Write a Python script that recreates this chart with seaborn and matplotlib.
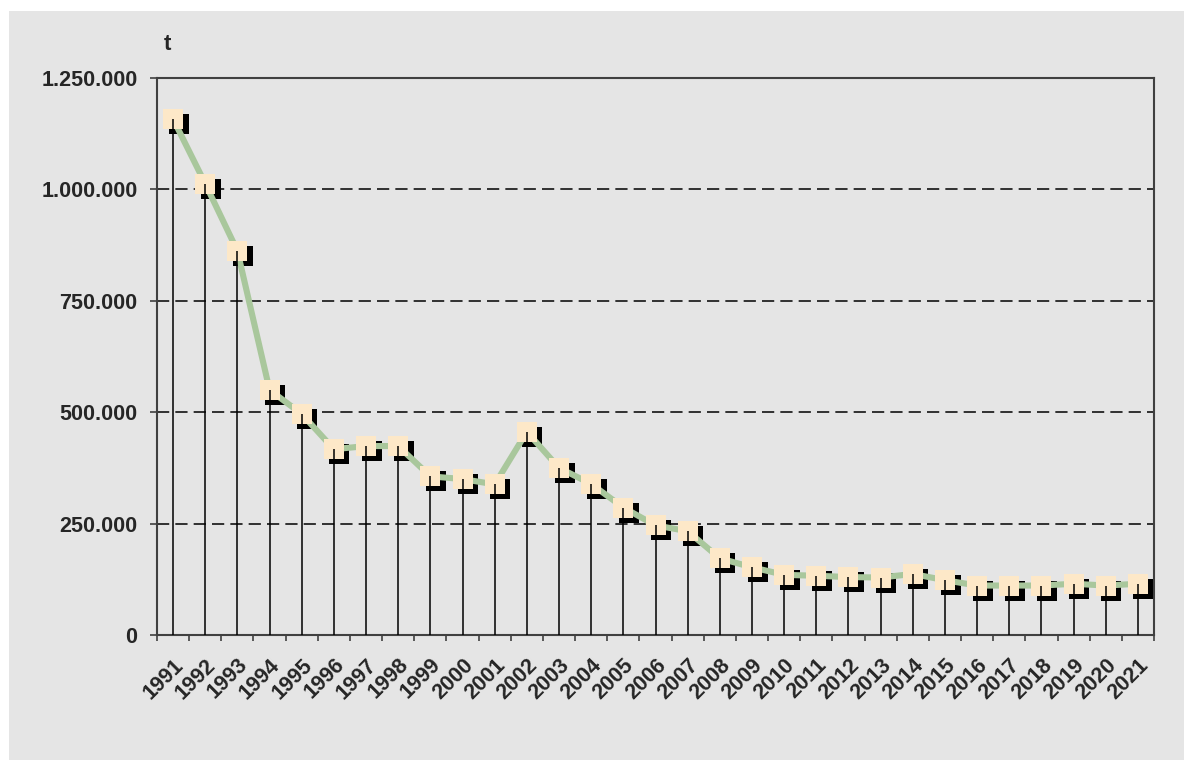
import matplotlib
matplotlib.use("Agg")
import matplotlib.pyplot as plt
from matplotlib.patches import Rectangle
from matplotlib.ticker import FixedLocator, FuncFormatter, NullFormatter
from matplotlib.transforms import offset_copy, ScaledTranslation
import numpy as np
import pandas as pd
import seaborn as sns

# Annual quantities in tonnes
years = list(range(1991, 2022))
tonnes = [1158000, 1013000, 862000, 550000, 496000, 417000, 424000, 424000,
          356000, 350000, 338000, 456000, 375000, 339000, 286000, 246000,
          233000, 172000, 152000, 135000, 133000, 130000, 129000, 137000,
          123000, 111000, 111000, 111000, 115000, 111000, 115000]
y_ticks = [0, 250000, 500000, 750000, 1000000, 1250000]
unit_label = "t"

df = pd.DataFrame({"year": years, "tonnes": tonnes})

sns.set_style("white")
plt.rcParams["font.family"] = ["Liberation Sans", "DejaVu Sans"]
plt.rcParams["font.weight"] = "bold"

panel = "#e5e5e5"
fig = plt.figure(figsize=(11.84, 7.60), dpi=100, facecolor="white")
fig.patches.append(Rectangle((9 / 1184, 0), 1, 1 - 11 / 760, transform=fig.transFigure,
                             facecolor=panel, edgecolor="none", zorder=-10))
ax = fig.add_axes([157 / 1184, 1 - 635 / 760, (1154 - 157) / 1184, (635 - 78) / 760])
ax.set_facecolor(panel)

# drop shadow behind each marker
shadow_tr = offset_copy(ax.transData, fig=fig, x=4.0, y=-3.6, units="points")
sns.scatterplot(data=df, x="year", y="tonnes", ax=ax, marker="s", s=190,
                color="black", linewidth=0, transform=shadow_tr, zorder=2, legend=False)
sns.lineplot(data=df, x="year", y="tonnes", ax=ax, color="#a9c79c", linewidth=4.4,
             zorder=3, legend=False)
sns.scatterplot(data=df, x="year", y="tonnes", ax=ax, marker="s", s=190,
                color="#fde8c8", linewidth=0, zorder=4, legend=False)
ax.vlines(df["year"], 0, df["tonnes"], color="black", linewidth=1.1, zorder=5)

ax.set_xlim(years[0] - 0.5, years[-1] + 0.5)
ax.set_ylim(y_ticks[0], y_ticks[-1])

# y axis
ax.yaxis.set_major_locator(FixedLocator(y_ticks))
ax.yaxis.set_major_formatter(FuncFormatter(lambda v, _: f"{int(v):,}".replace(",", ".")))
ax.tick_params(axis="y", which="major", direction="out", length=5, width=1.2,
               color="#404040", pad=9, labelsize=15.5, left=True)
for gy in y_ticks[1:-1]:
    ax.axhline(gy, color="black", linewidth=1.1, linestyle=(0, (8, 4)), zorder=1)

# x axis: tick marks between categories, labels at the centres
ax.xaxis.set_major_locator(FixedLocator(years))
ax.xaxis.set_minor_locator(FixedLocator([y - 0.5 for y in years] + [years[-1] + 0.5]))
ax.xaxis.set_minor_formatter(NullFormatter())
ax.set_xticklabels([str(y) for y in years])
ax.tick_params(axis="x", which="major", length=0, pad=14, labelsize=15.5)
ax.tick_params(axis="x", which="minor", direction="out", length=4.5, width=1.2,
               color="#404040", bottom=True)
for lbl in ax.get_xticklabels():
    lbl.set_rotation(45)
    lbl.set_ha("right")
    lbl.set_va("top")
    lbl.set_rotation_mode("anchor")
    lbl.set_transform(lbl.get_transform() + ScaledTranslation(0, 0, fig.dpi_scale_trans))

ax.set_xlabel("")
ax.set_ylabel("")
for sp in ax.spines.values():
    sp.set_visible(True)
    sp.set_color("#404040")
    sp.set_linewidth(1.5)

fig.text(167 / 1184, 1 - 44 / 760, unit_label, ha="center", va="center",
         fontsize=16, fontweight="bold")

fig.savefig("out.png", dpi=100, facecolor=fig.get_facecolor())
